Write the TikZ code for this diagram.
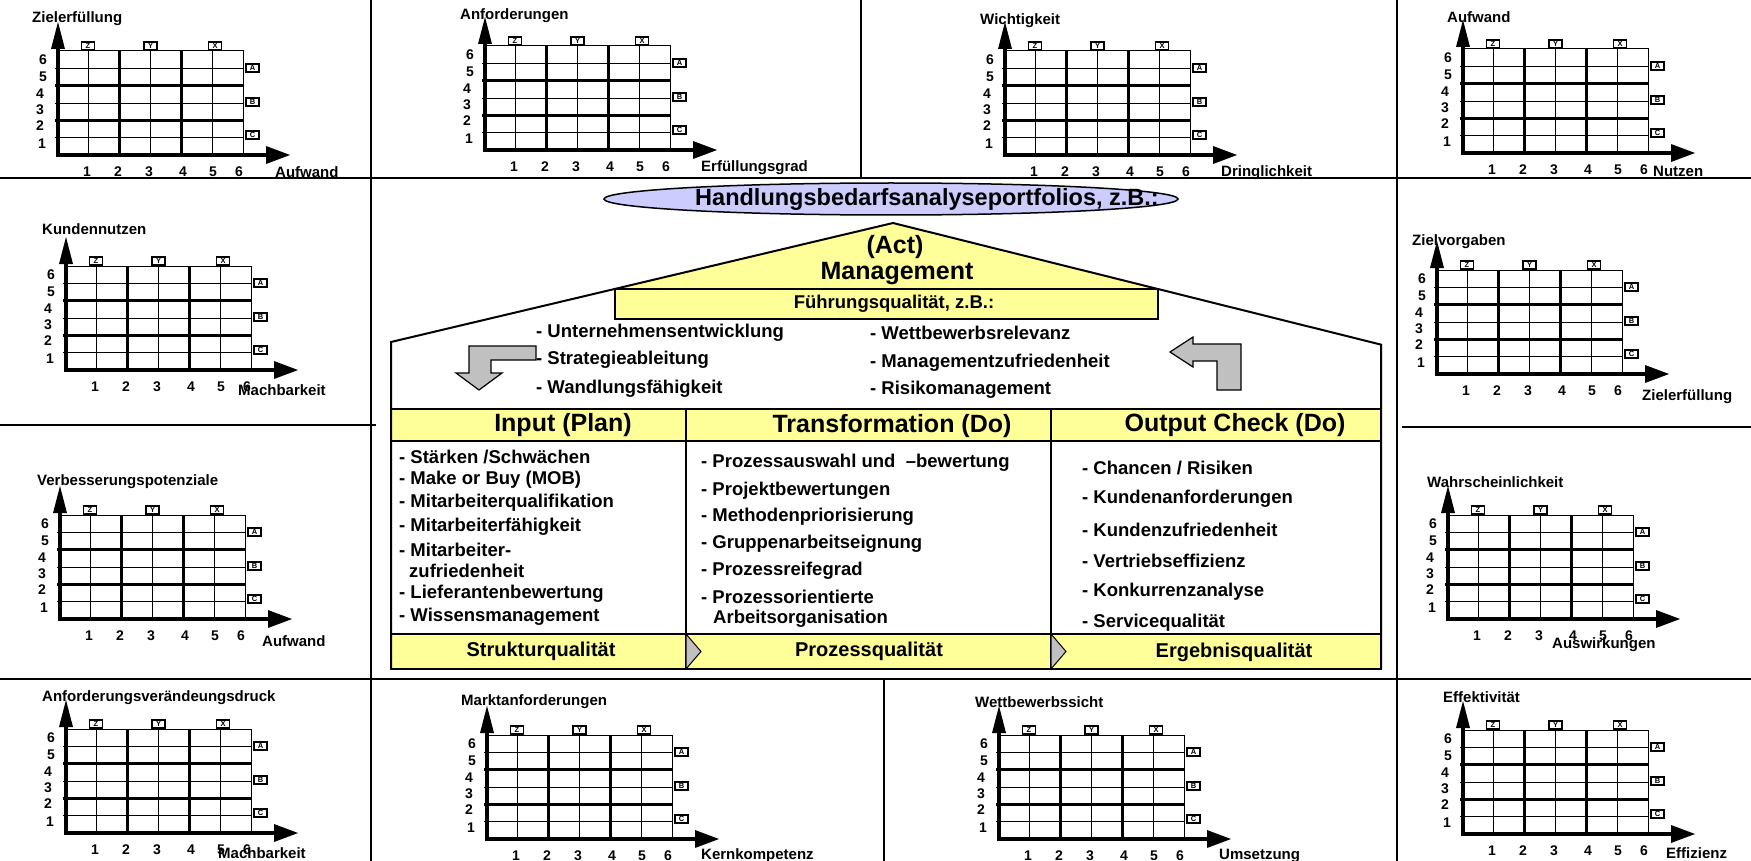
\documentclass[tikz,border=0pt]{standalone}
\usepackage{fontspec}
\setmainfont{Liberation Sans}
\usetikzlibrary{shapes.geometric}
\definecolor{paleyellow}{HTML}{FFFF99}
\definecolor{arrowgray}{HTML}{C0C0C0}
\definecolor{lavender}{HTML}{CCCCFF}

\tikzset{
  sep/.style={line width=2pt},
  gthin/.style={line width=1pt},
  gthick/.style={line width=3.4pt},
  axisline/.style={line width=4pt},
  num/.style={font=\bfseries\fontsize{14}{14}\selectfont, inner sep=0pt},
  axlabel/.style={font=\bfseries\fontsize{15}{15}\selectfont, inner sep=0pt, anchor=west},
  lbox/.style={draw, line width=1.3pt, inner sep=0pt, minimum width=13pt, minimum height=8pt,
    font=\bfseries\fontsize{7.5}{7.5}\selectfont},
  item/.style={font=\bfseries\fontsize{18.5}{20}\selectfont, inner sep=0pt, anchor=west},
  headtext/.style={font=\bfseries\fontsize{25}{28}\selectfont, inner sep=0pt},
  bandtext/.style={font=\bfseries\fontsize{20}{22}\selectfont, inner sep=0pt},
  house/.style={line width=2pt},
  grayarrow/.style={line width=1.2pt, fill=arrowgray, line join=miter},
}

% portfolio chart: #1 origin (axis corner), #2 name, #3 y label, #4 x label,
% #5 y label position, #6 x label position (both relative to the origin)
\newcommand\portfolio[6]{%
 \begin{scope}[shift={#1}]
  \foreach \k in {1,3,5} {
   \draw[gthin] (\k*30.83,0) -- (\k*30.83,-104);
   \draw[gthin] (-3,-\k*17.33) -- (185,-\k*17.33);
  }
  \draw[gthin] (0,-104) -- (185,-104) -- (185,0);
  \foreach \k in {2,4} {
   \draw[gthick] (\k*30.83,0) -- (\k*30.83,-104);
   \draw[gthick] (-3,-\k*17.33) -- (185,-\k*17.33);
  }
  \draw[axisline] (0,2) -- (0,-110);
  \draw[axisline] (-2,0) -- (211,0);
  \fill (0,-133) -- (-7,-106) -- (7,-106) -- cycle;
  \fill (232,0) -- (208,-9) -- (208,9) -- cycle;
  \foreach \n/\xx/\yy in {6/-15/-95,5/-15/-78,4/-18/-61,3/-18/-45,2/-18/-29,1/-16/-11}
   \node[num] (#2-y\n) at (\xx,\yy) {\n};
  \foreach \n/\xx in {1/29,2/60,3/91,4/125,5/155,6/181}
   \node[num] (#2-x\n) at (\xx,17) {\n};
  \node[lbox] (#2-z) at (30,-109) {Z};
  \node[lbox] (#2-yy) at (92.5,-109) {Y};
  \node[lbox] (#2-xx) at (157,-109) {X};
  \node[lbox] (#2-a) at (194.5,-87) {A};
  \node[lbox] (#2-b) at (194.5,-53) {B};
  \node[lbox] (#2-c) at (194.5,-20) {C};
  \node[axlabel] (#2-ylab) at #5 {#3};
  \node[axlabel] (#2-xlab) at #6 {#4};
 \end{scope}}

\begin{document}
\begin{tikzpicture}[x=1pt,y=-1pt]
\useasboundingbox (0,0) rectangle (1751,861);

% frame lines between the panels
\draw[sep] (371,0) -- (371,861);
\draw[sep] (1397,0) -- (1397,861);
\draw[sep] (0,178) -- (1751,178);
\draw[sep] (0,679) -- (1751,679);
\draw[sep] (861,0) -- (861,178);
\draw[sep] (884,679) -- (884,861);
\draw[sep] (0,425) -- (376,425);
\draw[sep] (1402,427) -- (1751,427);

% portfolios
\portfolio{(58,155)}{p1}{Zielerfüllung}{Aufwand}{(-26,-136)}{(217,17)}
\portfolio{(485,150)}{p2}{Anforderungen}{Erfüllungsgrad}{(-25,-134)}{(216,18)}
\portfolio{(1005,155)}{p3}{Wichtigkeit}{Dringlichkeit}{(-25,-134)}{(216,18)}
\portfolio{(1463,153)}{p4}{Aufwand}{Nutzen}{(-16,-136)}{(190,18)}
\portfolio{(66,370)}{p5}{Kundennutzen}{Machbarkeit}{(-24,-141)}{(172,20)}
\portfolio{(1437,374)}{p6}{Zielvorgaben}{Zielerfüllung}{(-25,-132)}{(205,23)}
\portfolio{(60,619)}{p7}{Verbesserungspotenziale}{Aufwand}{(-23,-137)}{(202,22)}
\portfolio{(1448,619)}{p8}{Wahrscheinlichkeit}{Auswirkungen}{(-21,-137)}{(104,26)}
\portfolio{(66,833)}{p9}{Anforderungsverändeungsdruck}{Machbarkeit}{(-24,-135)}{(152,20)}
\portfolio{(487,839)}{p10}{Marktanforderungen}{Kernkompetenz}{(-26,-137)}{(214,17)}
\portfolio{(999,839)}{p11}{Wettbewerbssicht}{Umsetzung}{(-24,-137)}{(220,17)}
\portfolio{(1463,834)}{p12}{Effektivität}{Effizienz}{(-20,-137)}{(203,19)}

% ellipse heading
\node[ellipse, draw, line width=1.5pt, fill=lavender, minimum width=574pt, minimum height=32pt, inner sep=0pt] (hba) at (891,199) {};
\node[font=\bfseries\fontsize{23.5}{24}\selectfont, inner sep=0pt] (hbatext) at (927,199) {Handlungsbedarfsanalyseportfolios, z.B.:};

% house: roof, bands and walls
\fill[paleyellow] (893,223) -- (615,289) -- (1158,289) -- cycle;
\draw[house, fill=paleyellow] (615,289) rectangle (1158,319);
\draw[house, fill=paleyellow] (391,409) rectangle (1381,441);
\draw[house, fill=paleyellow] (391,634) rectangle (1381,669);
\draw[house] (686,409) -- (686,669);
\draw[house] (1051,409) -- (1051,669);
\draw[line width=1pt, fill=arrowgray] (686,634) -- (701,651.5) -- (686,669) -- cycle;
\draw[line width=1pt, fill=arrowgray] (1051,634) -- (1066,651.5) -- (1051,669) -- cycle;
\draw[house, line join=miter] (391,669) -- (391,342) -- (893,223) -- (1381,344.6) -- (1381,669);

\node[headtext] (act) at (895,247) {(Act)};
\node[headtext] (mgmt) at (897,274) {Management};
\node[font=\bfseries\fontsize{18.5}{20}\selectfont, inner sep=0pt] (fq) at (894,304) {Führungsqualität, z.B.:};

% management items
\node[item] (m1) at (536,333) {- Unternehmensentwicklung};
\node[item] (m2) at (536,360) {- Strategieableitung};
\node[item] (m3) at (536,389) {- Wandlungsfähigkeit};
\node[item] (m4) at (870,333) {- Wettbewerbsrelevanz};
\node[item] (m5) at (870,363) {- Managementzufriedenheit};
\node[item] (m6) at (870,390) {- Risikomanagement};

% bent gray arrows
\draw[grayarrow] (536,346) -- (469,346) -- (469,373) -- (456,373) -- (479,390) -- (502,373)
  -- (491,373) -- (491,360) -- (536,360) -- cycle;
\draw[grayarrow] (1170,352) -- (1193,337) -- (1193,344) -- (1241,344) -- (1241,390)
  -- (1217,390) -- (1217,361) -- (1193,361) -- (1193,367) -- cycle;

% column headings
\node[headtext] (inp) at (563,425) {Input (Plan)};
\node[headtext] (trf) at (892,426) {Transformation (Do)};
\node[headtext] (out) at (1235,425) {Output Check (Do)};

% input items
\node[item] (i1) at (399,457) {- Stärken /Schwächen};
\node[item] (i2) at (399,480) {- Make or Buy (MOB)};
\node[item] (i3) at (399,503) {- Mitarbeiterqualifikation};
\node[item] (i4) at (399,527) {- Mitarbeiterfähigkeit};
\node[item] (i5) at (399,550) {- Mitarbeiter-};
\node[item] (i6) at (409,571) {zufriedenheit};
\node[item] (i7) at (399,594) {- Lieferantenbewertung};
\node[item] (i8) at (399,617) {- Wissensmanagement};

% transformation items
\node[item] (t1) at (701,463) {- Prozessauswahl und\ \ –bewertung};
\node[item] (t2) at (701,491) {- Projektbewertungen};
\node[item] (t3) at (701,517) {- Methodenpriorisierung};
\node[item] (t4) at (701,544) {- Gruppenarbeitseignung};
\node[item] (t5) at (701,571) {- Prozessreifegrad};
\node[item] (t6) at (701,597) {- Prozessorientierte};
\node[item] (t7) at (713,619) {Arbeitsorganisation};

% output items
\node[item] (o1) at (1082,468) {- Chancen / Risiken};
\node[item] (o2) at (1082,499) {- Kundenanforderungen};
\node[item] (o3) at (1082,530) {- Kundenzufriedenheit};
\node[item] (o4) at (1082,561) {- Vertriebseffizienz};
\node[item] (o5) at (1082,592) {- Konkurrenzanalyse};
\node[item] (o6) at (1082,623) {- Servicequalität};

% quality band
\node[bandtext] (sq) at (541,651) {Strukturqualität};
\node[bandtext] (pq) at (869,651) {Prozessqualität};
\node[bandtext] (eq) at (1234,652) {Ergebnisqualität};
\end{tikzpicture}
\end{document}
